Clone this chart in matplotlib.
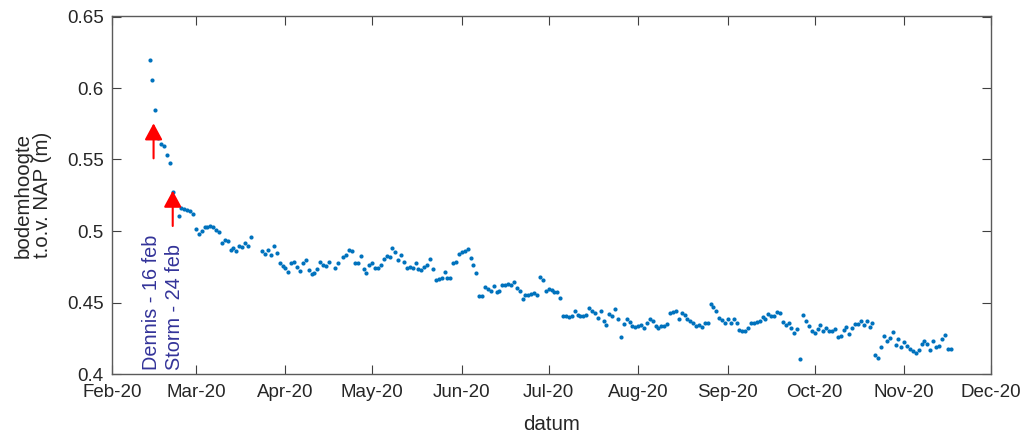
import numpy as np
import pandas as pd
import matplotlib
matplotlib.use('Agg')
import matplotlib.pyplot as plt
import matplotlib.dates as mdates
from matplotlib.ticker import FormatStrFormatter

plt.rcParams['font.family'] = ['Liberation Sans', 'DejaVu Sans']

# ── bodemhoogte per dag (m t.o.v. NAP), nan = geen meting ──────────
start = '2020-02-14'
feb = [0.6196, 0.6054, 0.5846, 0.5648, 0.5608, 0.5594, 0.5529, 0.5478, 0.5273,
       np.nan, 0.5105, 0.5159, 0.5154, 0.5147, 0.5142, 0.5119]
mrt = [0.5014, 0.4977, 0.5002, 0.5028, 0.5030, 0.5037, 0.5030, 0.5007, 0.4991,
       0.4918, 0.4937, 0.4930, 0.4867, 0.4879, 0.4860, 0.4895, 0.4886, 0.4914,
       0.4895, 0.4960, np.nan, np.nan, np.nan, 0.4858, 0.4841, 0.4869, 0.4832,
       0.4897, 0.4844, 0.4774, 0.4758]
apr = [0.4744, 0.4716, 0.4774, 0.4783, 0.4751, 0.4718, 0.4779, 0.4800, 0.4727,
       0.4699, 0.4706, 0.4734, 0.4786, 0.4762, 0.4755, 0.4781, np.nan, 0.4741,
       0.4774, np.nan, 0.4818, 0.4832, 0.4867, 0.4860, 0.4774, 0.4779, 0.4823,
       0.4734, 0.4709, 0.4765]
mei = [0.4779, 0.4741, 0.4741, 0.4760, 0.4804, 0.4827, 0.4821, 0.4883, 0.4853,
       0.4797, 0.4834, 0.4786, 0.4741, 0.4751, 0.4739, 0.4779, 0.4734, 0.4730,
       0.4746, 0.4765, 0.4804, 0.4737, 0.4660, 0.4664, 0.4674, 0.4711, 0.4674,
       0.4671, 0.4776, 0.4781, 0.4841]
jun = [0.4855, 0.4858, 0.4872, 0.4809, 0.4762, 0.4705, 0.4546, 0.4543, 0.4608,
       0.4592, 0.4580, 0.4613, 0.4573, 0.4580, 0.4620, 0.4625, 0.4627, 0.4625,
       0.4641, 0.4599, 0.4583, 0.4527, 0.4550, 0.4555, 0.4557, 0.4564, 0.4550,
       0.4678, 0.4657, 0.4578]
jul = [0.4594, 0.4587, 0.4576, 0.4576, 0.4534, 0.4403, 0.4403, 0.4396, 0.4406,
       0.4438, 0.4413, 0.4408, 0.4408, 0.4415, 0.4464, 0.4441, 0.4427, 0.4394,
       0.4438, 0.4370, 0.4345, 0.4420, 0.4408, 0.4455, 0.4385, 0.4260, 0.4350,
       0.4382, 0.4365, 0.4335, 0.4330]
aug = [0.4335, 0.4343, 0.4319, 0.4354, 0.4382, 0.4371, 0.4338, 0.4324, 0.4333,
       0.4338, 0.4352, 0.4429, 0.4436, 0.4443, 0.4382, 0.4429, 0.4413, 0.4387,
       0.4368, 0.4354, 0.4338, 0.4343, 0.4329, 0.4357, 0.4359, 0.4487, 0.4471,
       0.4441, 0.4389, 0.4380, 0.4354]
sep = [0.4382, 0.4354, 0.4385, 0.4357, 0.4308, 0.4301, 0.4303, 0.4324, 0.4359,
       0.4359, 0.4364, 0.4371, 0.4401, 0.4387, 0.4417, 0.4408, 0.4408, 0.4436,
       0.4429, 0.4366, 0.4343, 0.4359, 0.4324, 0.4289, 0.4317, 0.4103, 0.4413,
       0.4373, 0.4336, 0.4298]
okt = [0.4287, 0.4315, 0.4343, 0.4303, 0.4324, 0.4303, 0.4298, 0.4315, 0.4261,
       0.4268, 0.4310, 0.4329, 0.4280, 0.4324, 0.4347, 0.4347, 0.4373, 0.4340,
       0.4371, 0.4329, 0.4357, 0.4131, 0.4112, 0.4191, 0.4268, 0.4231, 0.4252,
       0.4296, 0.4205, 0.4245, 0.4187]
nov = [0.4226, 0.4196, 0.4173, 0.4161, 0.4147, 0.4170, 0.4212, 0.4233, 0.4212,
       0.4170, 0.4233, 0.4191, 0.4194, 0.4242, 0.4270, 0.4175, 0.4177]

hoogte = np.array(feb + mrt + apr + mei + jun + jul + aug + sep + okt + nov)
datum = pd.date_range(start=start, periods=len(hoogte), freq='D')

# stormen: (label, datum pijl, onderkant pijl, punt pijl, positie tekst)
stormen = [('Dennis - 16 feb', '2020-02-15 09:00', 0.5508, 0.5753, '2020-02-14 12:00'),
           ('Storm - 24 feb', '2020-02-22 00:00', 0.5035, 0.5282, '2020-02-22 12:00')]

# ── figuur ────────────────────────────────────────────────
fig = plt.figure(figsize=(10.25, 4.36), dpi=100)
ax = fig.add_axes([112 / 1025, 62 / 436, 879 / 1025, 357.5 / 436])

ax.plot(datum, hoogte, 'o', ms=3.0, color='#0072BD', mec='none')

for label, xp, y0, y1, xt in stormen:
    ax.annotate('', xy=(pd.Timestamp(xp), y1), xytext=(pd.Timestamp(xp), y0),
                arrowprops=dict(arrowstyle='-|>,head_length=1.0,head_width=0.54',
                                color='red', lw=1.5, shrinkA=0, shrinkB=0,
                                mutation_scale=10))
    ax.text(pd.Timestamp(xt), 0.4028, label, rotation=90, ha='center',
            va='bottom', color='#333399', fontsize=14.3)

ax.set_xlim(pd.Timestamp('2020-02-01'), pd.Timestamp('2020-12-01'))
ax.set_ylim(0.4, 0.65)
ax.set_yticks(np.arange(0.4, 0.651, 0.05))
ax.yaxis.set_major_formatter(FormatStrFormatter('%g'))
ax.xaxis.set_major_locator(mdates.MonthLocator())
ax.xaxis.set_major_formatter(mdates.DateFormatter('%b-%y'))

ax.tick_params(direction='in', length=6.5, width=0.8, color='#404040',
               labelsize=13.5, labelcolor='#262626', top=True, right=True)
ax.tick_params(axis='x', pad=7)
ax.tick_params(axis='y', pad=6)
for s in ax.spines.values():
    s.set_color('#5a5a5a')
    s.set_linewidth(1.0)

ax.set_xlabel('datum', fontsize=14.8, color='#262626', labelpad=10)
ax.set_ylabel('bodemhoogte\nt.o.v. NAP (m)', fontsize=14.8, color='#262626',
              linespacing=1.05)
ax.yaxis.set_label_coords(-0.068, 0.5)

fig.savefig('out.png', dpi=100)
